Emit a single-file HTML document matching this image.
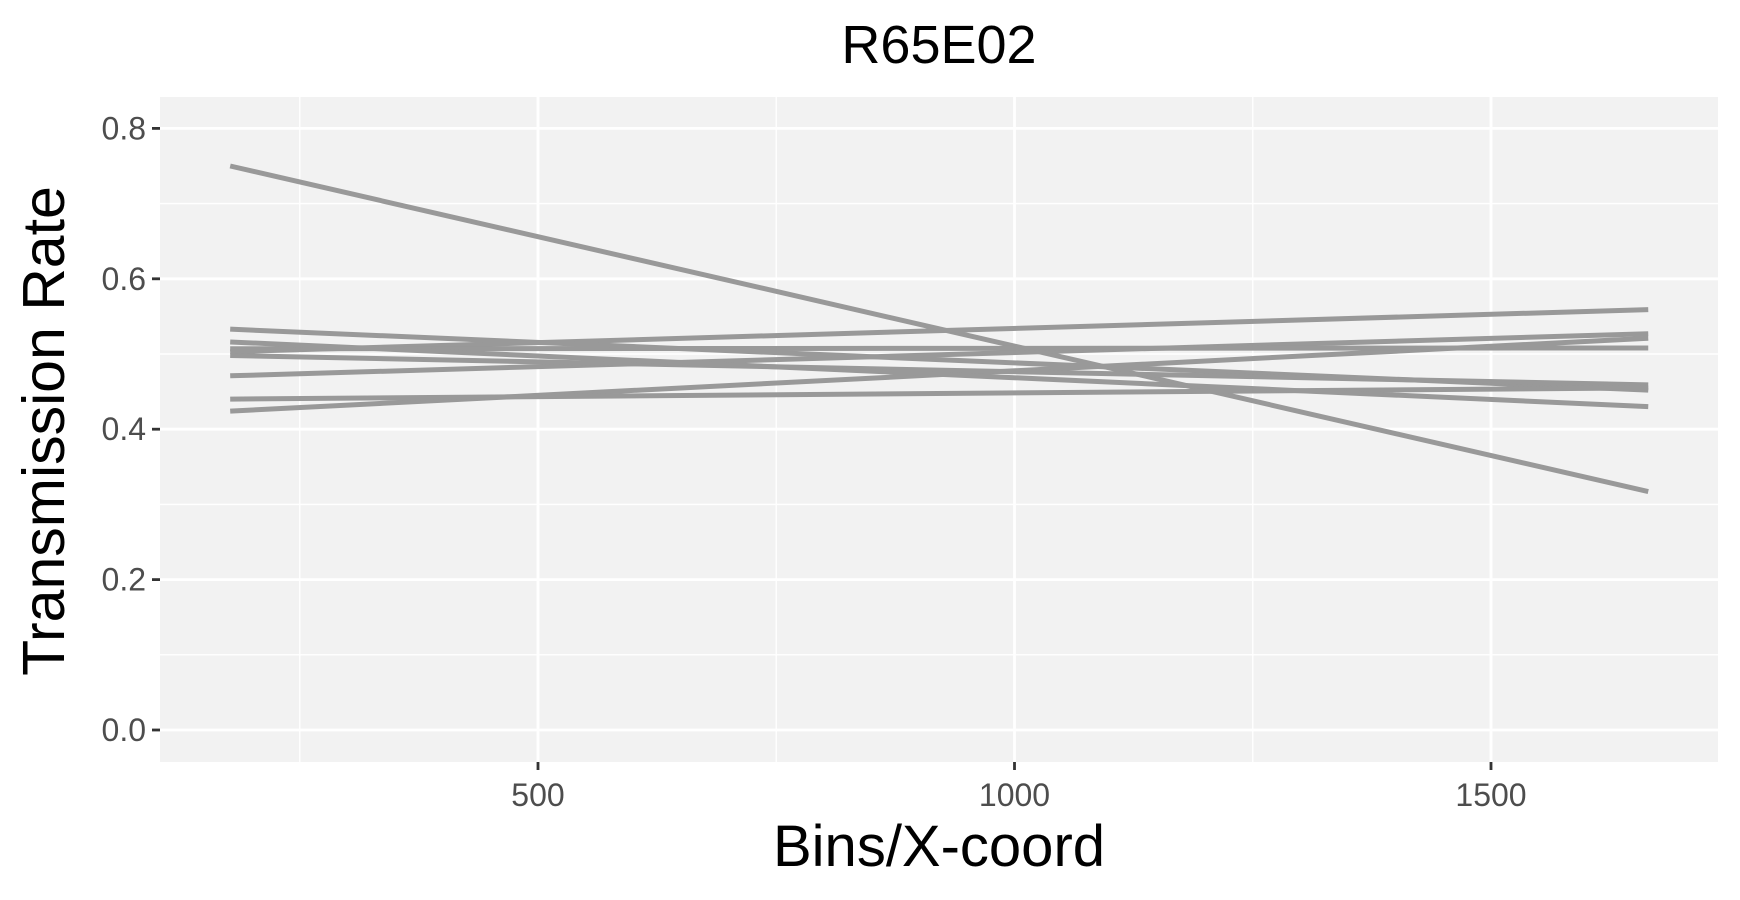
<!DOCTYPE html>
<html><head><meta charset="utf-8"><style>
html,body{margin:0;padding:0;background:#fff;}
svg{display:block;font-family:"Liberation Sans",sans-serif;}
</style></head><body>
<svg id="chart" width="1740" height="900" viewBox="0 0 1740 900" xmlns="http://www.w3.org/2000/svg">
<rect x="160" y="97" width="1558" height="665" fill="#f2f2f2"/>
<g id="grid"></g>
<g id="series"></g>
<g id="axes"></g>
<text x="939" y="63" text-anchor="middle" font-size="54" fill="#000">R65E02</text>
<text x="939" y="866" text-anchor="middle" font-size="58" fill="#000">Bins/X-coord</text>
<text transform="translate(64,431) rotate(-90)" text-anchor="middle" font-size="59" fill="#000">Transmission Rate</text>
</svg>
<script>
const xStart = 177;
const xEnd = 1665;
const startValues = [0.750, 0.503, 0.471, 0.424, 0.507, 0.533, 0.498, 0.440, 0.516];
const endValues   = [0.317, 0.559, 0.527, 0.521, 0.508, 0.452, 0.459, 0.455, 0.430];
const xTicks = [500, 1000, 1500];
const xMinor = [250, 750, 1250];
const yTicks = [0.0, 0.2, 0.4, 0.6, 0.8];
const yTickLabels = ["0.0", "0.2", "0.4", "0.6", "0.8"];
const yMinor = [0.1, 0.3, 0.5, 0.7];

const NS = "http://www.w3.org/2000/svg";
function sx(x){ return 538 + (x - 500) * 0.953; }
function sy(v){ return 730 - v * 752; }
function mk(tag, attrs, parent){
  const e = document.createElementNS(NS, tag);
  for (const k in attrs) e.setAttribute(k, attrs[k]);
  parent.appendChild(e);
  return e;
}
const grid = document.getElementById('grid');
const series = document.getElementById('series');
const axes = document.getElementById('axes');

yMinor.forEach(v => {
  const l = mk('line', {x1:160, x2:1718, y1:sy(v), y2:sy(v), stroke:'#fff', 'stroke-width':1.4}, grid);
  
  
});
xMinor.forEach(x => {
  const l = mk('line', {x1:sx(x), x2:sx(x), y1:97, y2:762, stroke:'#fff', 'stroke-width':1.4}, grid);
  
  
});
yTicks.forEach((v, i) => {
  const l = mk('line', {x1:160, x2:1718, y1:sy(v), y2:sy(v), stroke:'#fff', 'stroke-width':2.8}, grid);
  
  
  const t = mk('line', {x1:152, x2:160, y1:sy(v), y2:sy(v), stroke:'#333', 'stroke-width':2.8}, axes);
  
  
  const tx = mk('text', {x:146, y:sy(v) + 11, 'text-anchor':'end', 'font-size':32, fill:'#4d4d4d'}, axes);
  tx.textContent = yTickLabels[i];
  
  
});
xTicks.forEach(x => {
  const l = mk('line', {x1:sx(x), x2:sx(x), y1:97, y2:762, stroke:'#fff', 'stroke-width':2.8}, grid);
  
  
  const t = mk('line', {x1:sx(x), x2:sx(x), y1:762, y2:770, stroke:'#333', 'stroke-width':2.8}, axes);
  
  
  const tx = mk('text', {x:sx(x), y:806, 'text-anchor':'middle', 'font-size':32, fill:'#4d4d4d'}, axes);
  tx.textContent = String(x);
  
  
});
startValues.forEach((v, i) => {
  const l = mk('line', {x1:sx(xStart), y1:sy(v), x2:sx(xEnd), y2:sy(endValues[i]), stroke:'#999999', 'stroke-width':5}, series);
  
  
});
</script>
</body></html>
